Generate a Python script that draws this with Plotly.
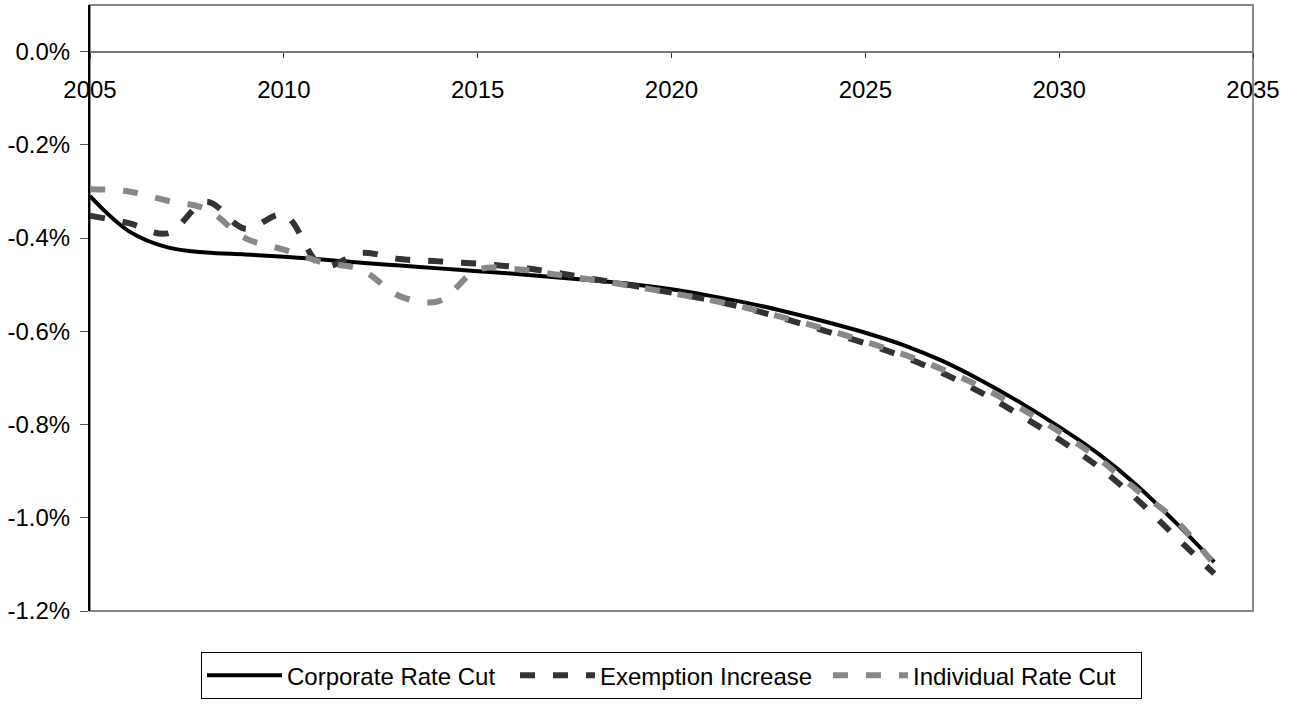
import plotly.graph_objects as go

# Annual change, percent
years = list(range(2005, 2035))

corporate_rate_cut = [-0.310, -0.385, -0.420, -0.431, -0.435, -0.440, -0.446, -0.453, -0.459, -0.465,
                      -0.471, -0.477, -0.484, -0.491, -0.499, -0.510, -0.524, -0.540, -0.559, -0.580,
                      -0.603, -0.630, -0.664, -0.706, -0.753, -0.805, -0.862, -0.930, -1.010, -1.095]

exemption_increase = [-0.352, -0.368, -0.390, -0.322, -0.380, -0.350, -0.460, -0.432, -0.445, -0.450,
                      -0.455, -0.462, -0.474, -0.488, -0.502, -0.517, -0.533, -0.552, -0.575, -0.600,
                      -0.626, -0.655, -0.690, -0.732, -0.780, -0.832, -0.890, -0.960, -1.040, -1.120]

individual_rate_cut = [-0.295, -0.300, -0.320, -0.338, -0.400, -0.425, -0.452, -0.468, -0.525, -0.535,
                       -0.468, -0.467, -0.478, -0.490, -0.503, -0.518, -0.533, -0.551, -0.573, -0.596,
                       -0.622, -0.650, -0.682, -0.720, -0.765, -0.815, -0.872, -0.940, -1.005, -1.100]

x_tick_vals = [2005, 2010, 2015, 2020, 2025, 2030, 2035]
y_tick_vals = [0.0, -0.2, -0.4, -0.6, -0.8, -1.0, -1.2]
y_tick_text = ["0.0%", "-0.2%", "-0.4%", "-0.6%", "-0.8%", "-1.0%", "-1.2%"]

FONT = "Liberation Sans, Arial, sans-serif"

fig = go.Figure()
fig.add_trace(go.Scatter(
    x=years, y=corporate_rate_cut, name="Corporate Rate Cut", mode="lines",
    line=dict(color="#000000", width=4, shape="spline", smoothing=1.0),
))
fig.add_trace(go.Scatter(
    x=years, y=exemption_increase, name="Exemption Increase", mode="lines",
    line=dict(color="#333333", width=6, dash="15px,18px", shape="spline", smoothing=1.0),
))
fig.add_trace(go.Scatter(
    x=years, y=individual_rate_cut, name="Individual Rate Cut", mode="lines",
    line=dict(color="#888888", width=6, dash="15px,18px", shape="spline", smoothing=1.0),
))

# plot-area frame (top, right, bottom edges in gray)
fig.add_shape(type="rect", xref="paper", yref="paper", x0=0, x1=1, y0=0, y1=1,
              line=dict(color="#888888", width=2), layer="below")

fig.update_layout(
    width=1299, height=704,
    margin=dict(l=90, r=46, t=5, b=83),
    paper_bgcolor="white", plot_bgcolor="white",
    font=dict(family=FONT, size=24, color="#000000"),
    showlegend=True,
    legend=dict(
        orientation="h", x=0.5, xanchor="center", y=-0.068, yanchor="top",
        bordercolor="#000000", borderwidth=1, bgcolor="white",
        font=dict(family=FONT, size=24), itemwidth=75,
        entrywidthmode="pixels", entrywidth=223,
        tracegroupgap=0,
    ),
    xaxis=dict(
        range=[2005, 2035], tickvals=x_tick_vals, tickformat="d",
        anchor="free", position=1.2 / 1.3,
        showline=True, linecolor="#777777", linewidth=2,
        ticks="outside", ticklen=5, tickcolor="#333333", tickwidth=1,
        ticklabelstandoff=12,
        showgrid=False, zeroline=False,
    ),
    yaxis=dict(
        range=[-1.2, 0.1], tickvals=y_tick_vals, ticktext=y_tick_text,
        showline=True, linecolor="#000000", linewidth=2,
        ticks="outside", ticklen=8, tickcolor="#555555", tickwidth=1,
        ticklabelstandoff=5,
        showgrid=False, zeroline=False,
    ),
)

fig.write_html("out.html")
